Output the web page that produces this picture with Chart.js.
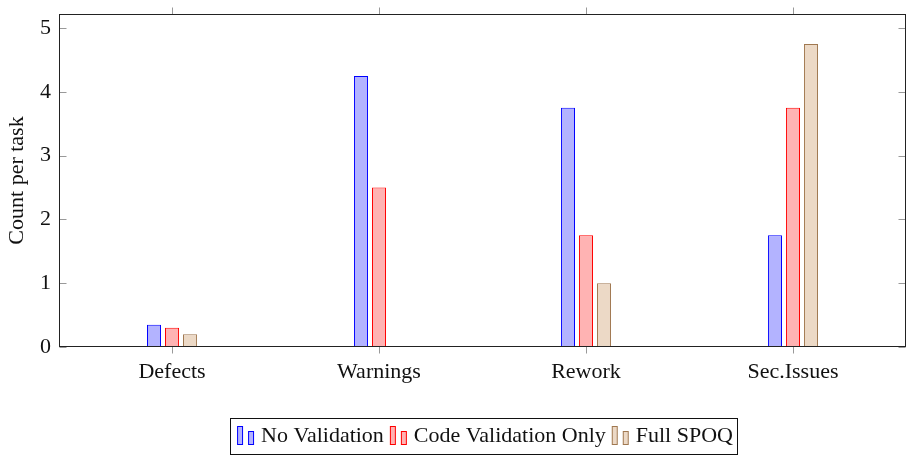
<!DOCTYPE html>
<html><head><meta charset="utf-8">
<script src="https://cdn.jsdelivr.net/npm/chart.js@4/dist/chart.umd.min.js"></script>
<style>html,body{margin:0;padding:0;background:#fff}#wrap{width:913px;height:460px}</style>
</head><body><div id="wrap"><canvas id="c" width="913" height="460"></canvas></div>
<script>
const categories = ['Defects', 'Warnings', 'Rework', 'Sec.Issues'];
const seriesNames = ['No Validation', 'Code Validation Only', 'Full SPOQ'];
const noValidation = [0.35, 4.25, 3.75, 1.75];
const codeValidationOnly = [0.3, 2.5, 1.75, 3.75];
const fullSPOQ = [0.2, 0, 1.0, 4.75];
const yTicks = [0, 1, 2, 3, 4, 5];

const FONT = "'Liberation Serif', 'Times New Roman', serif";
const FS = 22;
const fills = ['rgb(179,179,255)', 'rgb(255,179,179)', 'rgb(236,217,198)'];
const borders = ['rgb(0,0,255)', 'rgb(255,0,0)', 'rgb(160,120,80)'];
const seriesValues = [noValidation, codeValidationOnly, fullSPOQ];

function legendImage(fill, stroke) {
  const c = document.createElement('canvas');
  c.width = 28; c.height = 20;
  const g = c.getContext('2d');
  g.fillStyle = fill; g.strokeStyle = stroke; g.lineWidth = 1;
  g.fillRect(10.5, 0.5, 5, 18); g.strokeRect(10.5, 0.5, 5, 18);
  g.fillRect(21.5, 5.5, 5, 13); g.strokeRect(21.5, 5.5, 5, 13);
  return c;
}
const legendImages = seriesNames.map((_, i) => legendImage(fills[i], borders[i]));

const framePlugin = {
  id: 'frame',
  afterDatasetsDraw(chart) {
    const ctx = chart.ctx, a = chart.chartArea;
    const xs = chart.scales.x, ys = chart.scales.y;
    const L = Math.round(a.left) + 0.5, R = Math.round(a.right) - 0.5;
    const T = Math.round(a.top) + 0.5, B = Math.round(a.bottom) - 0.5;
    ctx.save();
    ctx.strokeStyle = '#999'; ctx.lineWidth = 1;
    ctx.beginPath();
    yTicks.forEach(v => {
      const y = Math.round(ys.getPixelForValue(v)) + 0.5;
      ctx.moveTo(L, y); ctx.lineTo(L + 7, y);
      ctx.moveTo(R, y); ctx.lineTo(R - 7, y);
    });
    categories.forEach((_, i) => {
      const x = Math.round(xs.getPixelForValue(i)) + 0.5;
      ctx.moveTo(x, B); ctx.lineTo(x, B + 7);
      ctx.moveTo(x, T); ctx.lineTo(x, T - 7);
    });
    ctx.stroke();
    ctx.strokeStyle = '#222';
    ctx.strokeRect(L, T, R - L, B - T);
    ctx.restore();
  },
  afterDraw(chart) {
    const hb = chart.legend && chart.legend.legendHitBoxes;
    if (!hb || !hb.length) return;
    const ctx = chart.ctx;
    let l = Infinity, r = -Infinity, cy = 0;
    hb.forEach(h => { l = Math.min(l, h.left); r = Math.max(r, h.left + h.width); cy = h.top + h.height / 2; });
    ctx.save();
    ctx.strokeStyle = '#111'; ctx.lineWidth = 1;
    const x0 = Math.round(l - 2) + 0.5, x1 = Math.round(r + 4) + 0.5;
    const y0 = Math.round(cy - 18.5) + 0.5, y1 = Math.round(cy + 17.5) + 0.5;
    ctx.strokeRect(x0, y0, x1 - x0, y1 - y0);
    ctx.restore();
  }
};

new Chart(document.getElementById('c'), {
  type: 'bar',
  data: {
    datasets: seriesNames.map((name, i) => ({
      label: name,
      data: seriesValues[i].map((v, j) => ({ x: j, y: v })),
      backgroundColor: fills[i],
      borderColor: borders[i],
      borderWidth: 1,
      borderSkipped: false,
      categoryPercentage: 0.261,
      barPercentage: 0.78
    }))
  },
  options: {
    responsive: false,
    animation: false,
    devicePixelRatio: 1,
    layout: { padding: { left: 0, right: 7, top: 14, bottom: 3 } },
    font: { family: FONT, size: FS },
    scales: {
      x: {
        type: 'linear', min: -0.546, max: 3.546, offset: false,
        afterBuildTicks: s => { s.ticks = categories.map((_, i) => ({ value: i })); },
        afterFit: s => { s.height = 77; s.paddingLeft = 0; s.paddingRight = 0; },
        grid: { display: false, drawTicks: false },
        border: { display: false },
        ticks: { color: '#111', font: { family: FONT, size: FS }, padding: 12, maxRotation: 0, autoSkip: false,
          callback: v => categories[v] }
      },
      y: {
        min: 0, max: 5.22,
        afterBuildTicks: s => { s.ticks = yTicks.map(v => ({ value: v })); },
        afterFit: s => { s.width = 59; s.paddingTop = 0; s.paddingBottom = 0; },
        grid: { display: false, drawTicks: false },
        border: { display: false },
        ticks: { color: '#111', font: { family: FONT, size: FS }, padding: 8 },
        title: { display: true, text: 'Count per task', color: '#111', font: { family: FONT, size: FS }, padding: { top: 4, bottom: 4 } }
      }
    },
    plugins: {
      tooltip: { enabled: false },
      legend: {
        position: 'bottom',
        fullSize: false,
        labels: {
          usePointStyle: true,
          pointStyleWidth: 18,
          boxHeight: 20,
          padding: 1,
          color: '#111',
          font: { family: FONT, size: FS },
          generateLabels: chart => chart.data.datasets.map((ds, i) => ({
            text: ds.label, fillStyle: ds.backgroundColor, strokeStyle: ds.borderColor,
            lineWidth: 1, pointStyle: legendImages[i], datasetIndex: i, hidden: false, fontColor: '#111'
          }))
        }
      }
    }
  },
  plugins: [framePlugin]
});
</script></body></html>
